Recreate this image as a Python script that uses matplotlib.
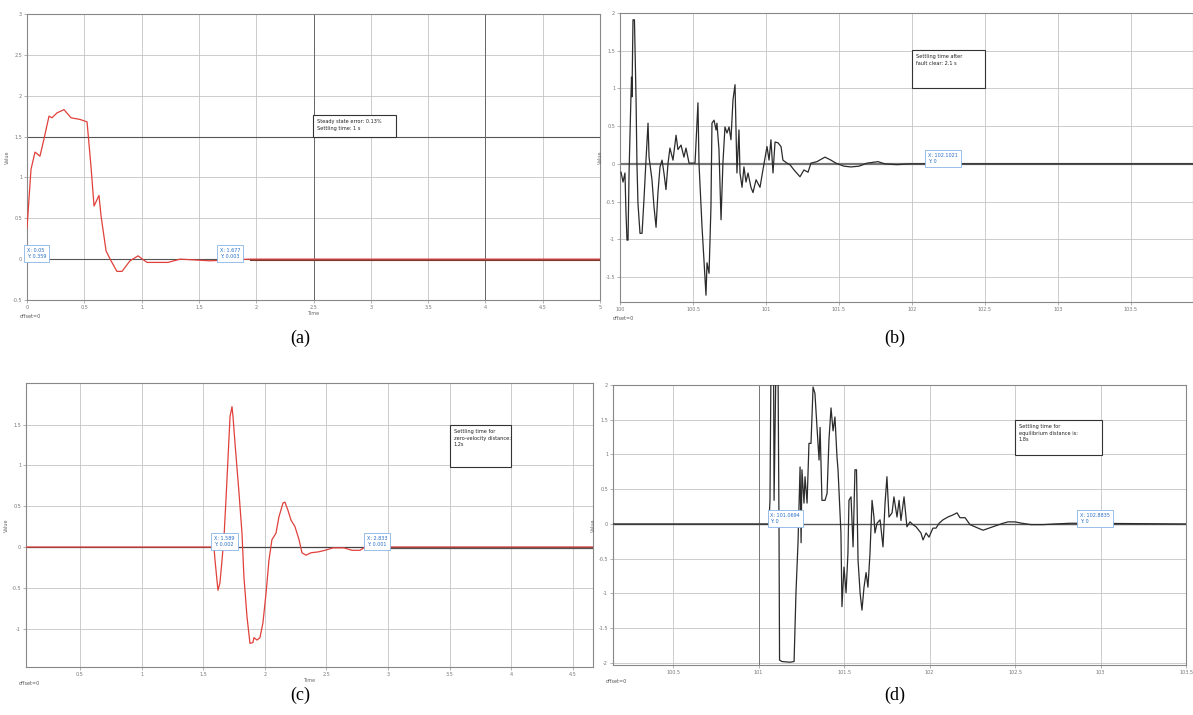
import numpy as np
from matplotlib import pyplot as plt
from matplotlib.patches import Rectangle

W, H = 1193, 715

# ---- data ----
# (a) position response
ta = [0.0, 0.035, 0.07, 0.113, 0.148, 0.192, 0.218, 0.262, 0.323, 0.384, 0.462, 0.524,
      0.558, 0.585, 0.628, 0.646, 0.69, 0.733, 0.785, 0.829, 0.899, 0.969, 1.047, 1.23,
      1.335, 1.597, 1.946, 5.0]
ya = [0.38, 1.10, 1.31, 1.26, 1.47, 1.75, 1.73, 1.79, 1.83, 1.73, 1.71, 1.68,
      1.14, 0.65, 0.78, 0.53, 0.10, -0.02, -0.15, -0.15, -0.02, 0.04, -0.04, -0.04,
      0.0, -0.02, 0.0, 0.0]

# (b) response after fault
tb = [100.007, 100.021, 100.034, 100.041, 100.048, 100.055, 100.062, 100.075, 100.079, 100.082,
      100.089, 100.099, 100.11, 100.116, 100.123, 100.137, 100.151, 100.164, 100.178, 100.192,
      100.199, 100.219, 100.233, 100.247, 100.26, 100.274, 100.288, 100.301, 100.315, 100.329,
      100.342, 100.363, 100.384, 100.397, 100.418, 100.438, 100.452, 100.473, 100.514, 100.534,
      100.541, 100.562, 100.575, 100.589, 100.596, 100.61, 100.623, 100.63, 100.644, 100.658,
      100.664, 100.678, 100.692, 100.705, 100.719, 100.733, 100.747, 100.76, 100.774, 100.788,
      100.801, 100.815, 100.822, 100.836, 100.849, 100.863, 100.877, 100.897, 100.911, 100.932,
      100.959, 100.979, 101.007, 101.021, 101.034, 101.048, 101.062, 101.082, 101.103, 101.116,
      101.144, 101.164, 101.192, 101.233, 101.26, 101.288, 101.308, 101.349, 101.404, 101.445,
      101.479, 101.534, 101.582, 101.637, 101.692, 101.767, 101.815, 101.897, 101.979, 102.11,
      103.925]
yb = [-0.11, -0.24, -0.12, -0.65, -1.01, -1.01, -0.12, 0.89, 1.15, 0.89,
      1.91, 1.91, 0.85, 0.01, -0.52, -0.92, -0.92, -0.48, 0.05, 0.54,
      0.09, -0.21, -0.57, -0.84, -0.38, -0.04, 0.05, -0.12, -0.34, 0.01,
      0.21, 0.05, 0.38, 0.19, 0.25, 0.09, 0.21, 0.01, 0.01, 0.81,
      0.01, -0.84, -1.27, -1.74, -1.31, -1.45, -0.57, 0.54, 0.58, 0.45,
      0.54, 0.19, -0.74, 0.01, 0.49, 0.41, 0.49, 0.32, 0.85, 1.05,
      -0.12, 0.45, -0.12, -0.31, -0.04, -0.24, -0.12, -0.31, -0.38, -0.21,
      -0.31, -0.08, 0.23, 0.05, 0.32, -0.12, 0.29, 0.28, 0.23, 0.05,
      0.01, -0.01, -0.08, -0.17, -0.08, -0.11, 0.01, 0.03, 0.09, 0.05,
      0.01, -0.03, -0.04, -0.03, 0.01, 0.03, 0.0, -0.01, 0.0, 0.0,
      0.0]

# (c) velocity response
tc = [0.062, 1.555, 1.588, 1.596, 1.62, 1.636, 1.653, 1.669, 1.685, 1.701, 1.718, 1.734,
      1.742, 1.758, 1.791, 1.815, 1.831, 1.856, 1.88, 1.904, 1.912, 1.937, 1.961, 1.985,
      2.01, 2.034, 2.058, 2.091, 2.115, 2.148, 2.164, 2.188, 2.213, 2.245, 2.278, 2.302,
      2.334, 2.375, 2.432, 2.489, 2.554, 2.643, 2.708, 2.773, 2.813, 4.664]
yc = [0.0, 0.0, 0.0, -0.16, -0.53, -0.44, -0.16, 0.12, 0.58, 1.07, 1.60, 1.72,
      1.60, 1.28, 0.66, 0.17, -0.37, -0.86, -1.18, -1.17, -1.11, -1.14, -1.11, -0.93,
      -0.57, -0.16, 0.09, 0.17, 0.37, 0.54, 0.55, 0.45, 0.33, 0.25, 0.09, -0.07,
      -0.10, -0.07, -0.06, -0.04, -0.01, -0.01, -0.04, -0.04, 0.0, 0.0]

# (d) response for equilibrium distance
td = [100.149, 101.061, 101.067, 101.073, 101.088, 101.091, 101.102, 101.114, 101.12, 101.123,
      101.137, 101.184, 101.208, 101.219, 101.231, 101.243, 101.249, 101.254, 101.266, 101.272,
      101.284, 101.295, 101.307, 101.319, 101.33, 101.342, 101.354, 101.36, 101.371, 101.389,
      101.401, 101.412, 101.424, 101.436, 101.447, 101.459, 101.465, 101.482, 101.488, 101.5,
      101.512, 101.523, 101.529, 101.541, 101.553, 101.564, 101.573, 101.582, 101.594, 101.605,
      101.617, 101.629, 101.64, 101.652, 101.664, 101.675, 101.681, 101.693, 101.711, 101.728,
      101.74, 101.751, 101.763, 101.781, 101.792, 101.81, 101.822, 101.833, 101.851, 101.868,
      101.886, 101.903, 101.921, 101.95, 101.962, 101.98, 101.997, 102.02, 102.038, 102.056,
      102.079, 102.108, 102.137, 102.161, 102.178, 102.208, 102.237, 102.284, 102.313, 102.348,
      102.383, 102.43, 102.459, 102.5, 102.541, 102.594, 102.664, 102.734, 102.822, 102.874,
      103.5]
yd = [0.0, 0.0, 0.34, 2.3, 2.3, 0.34, 2.3, 2.3, -0.13, -1.96,
      -1.98, -1.99, -1.98, -0.99, -0.27, 0.82, -0.27, 0.78, 0.30, 0.68,
      0.30, 1.16, 1.16, 1.97, 1.88, 1.39, 0.92, 1.39, 0.34, 0.34,
      0.44, 1.21, 1.67, 1.34, 1.54, 0.96, 0.78, -0.13, -1.19, -0.62,
      -0.99, -0.42, 0.34, 0.39, -0.33, 0.78, 0.78, -0.52, -0.99, -1.24,
      -0.91, -0.70, -0.91, -0.42, 0.34, 0.10, -0.13, 0.01, 0.06, -0.33,
      0.30, 0.68, 0.10, 0.16, 0.39, 0.10, 0.34, 0.05, 0.39, -0.04,
      0.03, -0.01, -0.04, -0.13, -0.23, -0.13, -0.19, -0.06, -0.06, 0.01,
      0.06, 0.10, 0.13, 0.16, 0.09, 0.09, -0.01, -0.06, -0.09, -0.06,
      -0.03, 0.01, 0.03, 0.03, 0.01, -0.01, -0.01, 0.0, 0.01, 0.01,
      0.0]

notes = ["Steady state error: 0.13%\nSettling time: 1 s",
         "Settling time after\nfault clear: 2.1 s",
         "Settling time for\nzero-velocity distance:\n1.2s",
         "Settling time for\nequilibrium distance is:\n1.8s"]
tips_a = [(0.0, 0.0, "X: 0.05\nY: 0.359"), (1.68, 0.0, "X: 1.677\nY: 0.003")]
tips_b = [(102.11, 0.0, "X: 102.1021\nY: 0")]
tips_c = [(1.59, 0.0, "X: 1.589\nY: 0.002"), (2.83, 0.0, "X: 2.833\nY: 0.001")]
tips_d = [(101.07, 0.0, "X: 101.0694\nY: 0"), (102.88, 0.0, "X: 102.8835\nY: 0")]
captions = ["(a)", "(b)", "(c)", "(d)"]

fig = plt.figure(figsize=(W / 100, H / 100), dpi=100)


def box(l, t, r, b):
    return [l / W, 1 - b / H, (r - l) / W, (b - t) / H]


def scope(rect, xlim, xt, ylim, yt, xlab=True):
    ax = fig.add_axes(box(*rect))
    ax.set_xlim(*xlim)
    ax.set_ylim(*ylim)
    ax.set_xticks(xt)
    ax.set_yticks(yt)
    ax.set_xticklabels([("%g" % v) for v in xt])
    ax.set_yticklabels([("%g" % v) for v in yt])
    ax.tick_params(labelsize=3.5, colors='#777777', length=2, width=0.4, pad=1.5)
    ax.grid(True, color='#c4c4c4', lw=0.6)
    ax.set_axisbelow(True)
    for s in ax.spines.values():
        s.set_color('#888888')
        s.set_linewidth(0.8)
    if xlab:
        ax.set_xlabel("Time", fontsize=3.5, color='#666666', labelpad=1)
    ax.set_ylabel("Value", fontsize=3.5, color='#666666', labelpad=2)
    ax.text(-0.012, -0.05, "offset=0", transform=ax.transAxes, fontsize=3.5,
            color='#555555', ha='left', va='top')
    return ax


def note(ax, rect, txt):
    # rect in figure pixels: l, t, r, b
    l, t, r, b = rect
    ax.add_patch(Rectangle((l / W, 1 - b / H), (r - l) / W, (b - t) / H,
                           transform=fig.transFigure, fc='white', ec='#333333',
                           lw=0.8, zorder=5))
    fig.text(l / W + 0.003, 1 - t / H - 0.006, txt, fontsize=3.6, va='top',
             ha='left', color='#222222', zorder=6, linespacing=1.4)


def tips(ax, lst):
    for x, y, s in lst:
        ax.text(x, y, s, fontsize=3.5, color='#2a6fc9', ha='left', va='bottom',
                zorder=7, linespacing=1.3,
                bbox=dict(boxstyle='square,pad=0.6', fc='white', ec='#8ab4e8', lw=0.6))


# (a)
ax = scope((27, 14, 600, 300), (0, 5.0), np.arange(0, 5.01, 0.5),
           (-0.5, 3.0), np.arange(-0.5, 3.01, 0.5))
for v in [0, 1.5]:
    ax.axhline(v, color='#555555', lw=0.8, zorder=1)
for v in [2.5, 4.0]:
    ax.axvline(v, color='#666666', lw=0.7, zorder=1)
ax.plot(ta, ya, color='#e0403a', lw=0.9, zorder=3)
ax.plot([1.95, 5.0], [-0.006, -0.006], color='#7a3a30', lw=0.8, zorder=4)
note(ax, (313, 115, 396, 137), notes[0])
tips(ax, tips_a)

# (b)
ax = scope((620, 13, 1193, 302), (100, 103.925), np.arange(100, 103.9, 0.5),
           (-1.83, 2.0), np.arange(-1.5, 2.01, 0.5), xlab=False)
ax.axhline(0, color='#777777', lw=1.6, zorder=1)
ax.plot(tb, yb, color='#2b2b2b', lw=0.9, zorder=3)
note(ax, (912, 50, 985, 88), notes[1])
tips(ax, tips_b)

# (c)
ax = scope((26, 383, 593, 667), (0.062, 4.664), np.arange(0.5, 4.6, 0.5),
           (-1.47, 2.01), np.arange(-1.0, 1.51, 0.5))
ax.axhline(0, color='#444444', lw=0.9, zorder=1)
ax.plot(tc, yc, color='#e0403a', lw=0.9, zorder=3)
ax.plot([2.81, 4.664], [-0.01, -0.01], color='#555555', lw=0.9, zorder=4)
note(ax, (450, 425, 511, 467), notes[2])
tips(ax, tips_c)

# (d)
ax = scope((613, 385, 1186, 665), (100.149, 103.5), np.arange(100.5, 103.51, 0.5),
           (-2.03, 2.0), np.arange(-2.0, 2.01, 0.5), xlab=False)
ax.axhline(0, color='#555555', lw=1.0, zorder=1)
ax.axvline(101.0, color='#777777', lw=0.7, zorder=1)
ax.plot(td, yd, color='#2b2b2b', lw=0.9, zorder=3)
note(ax, (1015, 420, 1102, 455), notes[3])
tips(ax, tips_d)

for i, (x, y) in enumerate([(300, 338), (895, 338), (300, 695), (895, 695)]):
    fig.text(x / W, 1 - y / H, captions[i], fontsize=13, family='Liberation Serif',
             ha='center', va='center')

fig.savefig("out.png", dpi=100)
